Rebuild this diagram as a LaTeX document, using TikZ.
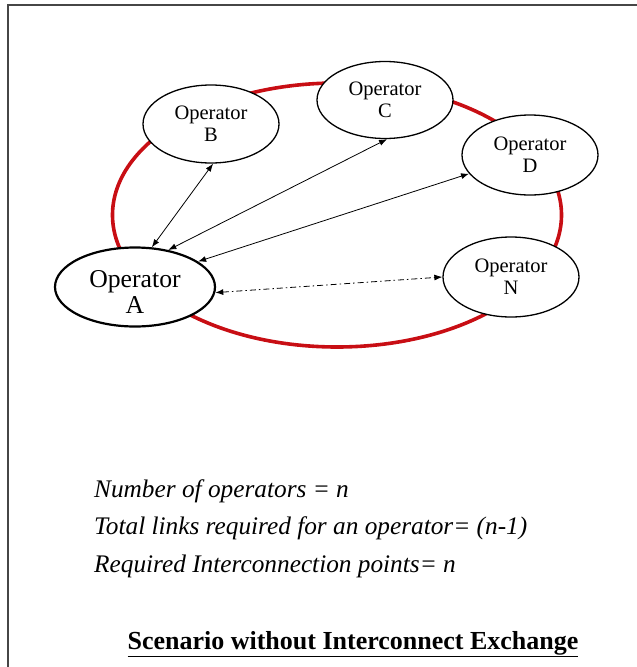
\documentclass[tikz,border=0pt]{standalone}
\usepackage{fontspec}
\setmainfont{Liberation Serif}
\usepackage{tikz}
\usetikzlibrary{shapes.geometric,arrows.meta,positioning}
\definecolor{ringred}{RGB}{200,14,20}
\definecolor{framegray}{RGB}{70,70,70}

\begin{document}
\begin{tikzpicture}[x=1pt, y=-1pt,
        opnode/.style={ellipse, draw, fill=white, line width=1.3pt, inner sep=0pt,
            minimum width=136pt, minimum height=78pt, align=center,
            font=\fontsize{20.5}{22}\selectfont},
        link/.style={line width=0.8pt, {Latex[length=8pt,width=6pt]}-{Latex[length=8pt,width=6pt]}},
        note/.style={anchor=base west, inner sep=0pt, font=\fontsize{25.3}{28}\selectfont\itshape}]
        \useasboundingbox (0,0) rectangle (637,667);
        % Frame
        \draw[framegray, line width=1.6pt] (637,5) -- (8,5) -- (8,667);
        % Ring
        \node[ellipse, draw=ringred, line width=3.6pt, minimum width=449pt, minimum height=264pt] (ring) at (337,215) {};
        % Operators
        \node[opnode, line width=2.2pt, minimum width=160pt, minimum height=79pt] (opA) at (135,287) {};
        \node[align=center, inner sep=0pt, font=\fontsize{25.7}{26}\selectfont] (opAtext)
            at ([yshift=-5pt]opA.center) {Operator\\A};
        \node[opnode] (opB) at (211,124) {Operator\\B};
        \node[opnode, minimum height=77pt] (opC) at (385,100) {Operator\\C};
        \node[opnode, minimum height=80pt] (opD) at (530,155) {Operator\\D};
        \node[opnode, minimum height=80pt] (opN) at (511,277) {Operator\\N};
        % Links
        \draw[link] (opA.67) -- (opB.-87);
        \draw[link] (opA.48) -- (opC.-87);
        \draw[link] (opA.22) -- (opD.-163);
        \draw[link, dash pattern=on 6pt off 3pt on 1.5pt off 3pt] (opA.-4) -- (opN.180);
        % Notes
        \node[note] (nops) at (94,497) {Number of operators = \textit{n}};
        \node[note] (nlinks) at (94,534) {Total links required for an operator= (n-1)};
        \node[note] (npoints) at (94,572) {Required Interconnection points= n};
        % Title
        \node[anchor=base, inner sep=0pt, font=\fontsize{26}{28}\selectfont\bfseries] (title) at (353,649)
            {\underline{Scenario without Interconnect Exchange}};
\end{tikzpicture}
\end{document}
